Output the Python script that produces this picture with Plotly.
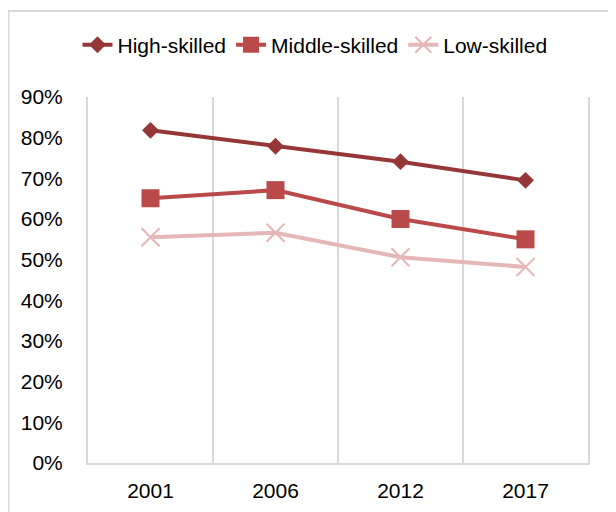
import plotly.graph_objects as go

years = ["2001", "2006", "2012", "2017"]
high_skilled = [0.818, 0.779, 0.741, 0.695]
middle_skilled = [0.651, 0.671, 0.600, 0.550]
low_skilled = [0.555, 0.566, 0.506, 0.482]
y_ticks = [i / 10 for i in range(10)]

c_high = "#953737"
c_mid = "#B94A49"
c_low = "#E5B7B6"
c_grid = "#d9d9d9"

xpos = list(range(len(years)))

fig = go.Figure()
fig.add_trace(go.Scatter(x=xpos, y=high_skilled, name="High-skilled", mode="lines+markers",
                         line=dict(color=c_high, width=4),
                         marker=dict(symbol="diamond", size=13, color=c_high)))
fig.add_trace(go.Scatter(x=xpos, y=middle_skilled, name="Middle-skilled", mode="lines+markers",
                         line=dict(color=c_mid, width=4),
                         marker=dict(symbol="square", size=18, color=c_mid)))
fig.add_trace(go.Scatter(x=xpos, y=low_skilled, name="Low-skilled", mode="lines+markers",
                         line=dict(color=c_low, width=4),
                         marker=dict(symbol="x-thin", size=18, color=c_low,
                                     line=dict(width=2, color=c_low))))

fig.update_layout(
    width=616, height=512,
    margin=dict(l=80, r=36, t=89, b=57),
    paper_bgcolor="white", plot_bgcolor="white",
    font=dict(family="Liberation Sans, Arial, sans-serif", size=21, color="black"),
    showlegend=True,
    legend=dict(orientation="h", x=0.454, y=1.142, xanchor="center", yanchor="middle",
                font=dict(size=21), itemwidth=30, tracegroupgap=0,
                bgcolor="rgba(0,0,0,0)"),
    xaxis=dict(range=[-0.5, 3.5], tickmode="array", tickvals=xpos, ticktext=years,
               showgrid=False, zeroline=False, showline=True, linecolor=c_grid, linewidth=2,
               ticks="", ticklabelstandoff=8, fixedrange=True,
               minor=dict(tickmode="linear", tick0=-0.5, dtick=1, showgrid=True,
                          gridcolor=c_grid, gridwidth=2, ticks="")),
    yaxis=dict(range=[0, 0.9], tickmode="array", tickvals=y_ticks, tickformat=".0%",
               showgrid=False, zeroline=False, showline=True, mirror=True,
               linecolor=c_grid, linewidth=2, ticks="",
               ticklabelstandoff=19, fixedrange=True),
    shapes=[dict(type="rect", xref="paper", yref="paper", x0=-0.159, x1=1.2,
                 y0=-0.3, y1=1.235, line=dict(color=c_grid, width=2),
                 fillcolor="rgba(0,0,0,0)", layer="below")],
)

fig.write_html("out.html")
